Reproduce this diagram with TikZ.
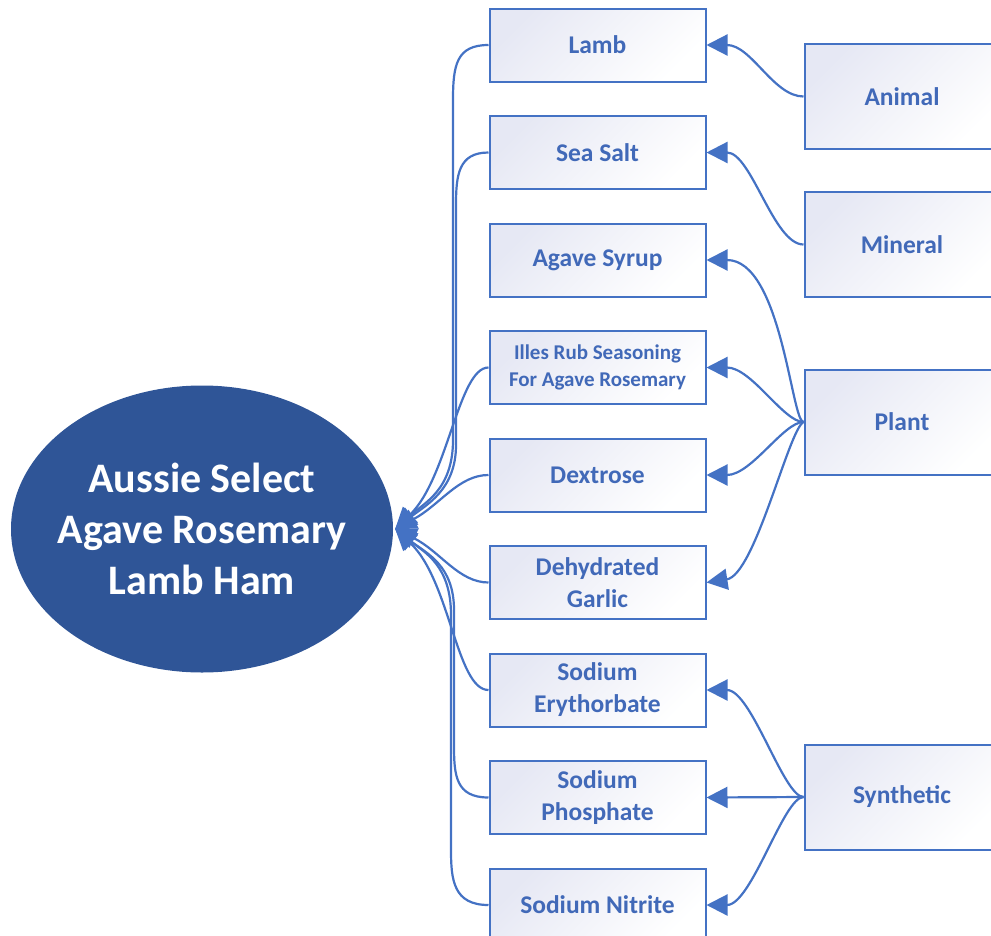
\documentclass[tikz,border=0pt]{standalone}
\usepackage{fontspec}
\setmainfont{Carlito}
\usetikzlibrary{arrows.meta,shapes.geometric}
\definecolor{lnc}{HTML}{4472C4}
\definecolor{txc}{HTML}{4169B8}
\definecolor{elc}{HTML}{2F5597}
\definecolor{bxc}{HTML}{E6E8F4}
\begin{document}
\begin{tikzpicture}[x=1pt,y=-1pt,
 ing/.style={draw=lnc, line width=2pt, top color=bxc, bottom color=white, shading angle=45,
   minimum width=216pt, minimum height=73pt, inner sep=0pt, align=center, text=txc,
   font=\bfseries\fontsize{25.5}{32}\selectfont},
 smalling/.style={ing, font=\bfseries\fontsize{21}{27}\selectfont},
 cat/.style={ing, minimum width=195pt, minimum height=105pt},
 conn/.style={draw=lnc, line width=2.2pt, -{Triangle[length=21pt,width=21pt]}}]
\useasboundingbox (0,0) rectangle (991,935);
\clip (0,0) rectangle (991,935);

\node[ellipse, fill=elc, minimum width=382pt, minimum height=287pt, inner sep=0pt] (main) at (202,529) {};
\node[text=white, align=center, inner sep=0pt, font=\bfseries\fontsize{42}{51}\selectfont] (maintext) at (main.center)
  {Aussie Select\\Agave Rosemary\\Lamb Ham};
\coordinate (hub) at ([xshift=2pt]main.east);

\node[ing] (lamb) at (597.5,45) {Lamb};
\node[ing] (salt) at (597.5,152.5) {Sea Salt};
\node[ing] (agave) at (597.5,260) {Agave Syrup};
\node[smalling] (illes) at (597.5,367.5) {Illes Rub Seasoning\\For Agave Rosemary};
\node[ing] (dex) at (597.5,475) {Dextrose};
\node[ing] (garlic) at (597.5,582.5) {Dehydrated\\Garlic};
\node[ing] (ery) at (597.5,690) {Sodium\\Erythorbate};
\node[ing] (phos) at (597.5,797.5) {Sodium\\Phosphate};
\node[ing] (nit) at (597.5,905) {Sodium Nitrite};

\node[cat] (animal) at (902,96.5) {Animal};
\node[cat] (mineral) at (902,244.5) {Mineral};
\node[cat] (plant) at (902,422) {Plant};
\node[cat] (synth) at (902,797) {Synthetic};

% ingredients to product
\draw[conn] (lamb.west) .. controls +(-32,0) and +(0,-35) .. (453,100) -- (453,440) .. controls (453,490) and (424,503) .. (hub);
\draw[conn] (salt.west) .. controls +(-30,0) and +(0,-30) .. (456,205) -- (456,445) .. controls (456,490) and (426,505) .. (hub);
\draw[conn] (illes.west) .. controls +(-30,0) and (448,478) .. (hub);
\draw[conn] (dex.west) .. controls +(-30,0) and (440,505) .. (hub);
\draw[conn] (garlic.west) .. controls +(-30,0) and (440,551) .. (hub);
\draw[conn] (ery.west) .. controls +(-32,0) and (450,580) .. (hub);
\draw[conn] (phos.west) .. controls +(-33,0) and +(0,30) .. (454,745) -- (454,610) .. controls (454,565) and (426,553) .. (hub);
\draw[conn] (nit.west) .. controls +(-35,0) and +(0,30) .. (451,850) -- (451,615) .. controls (451,565) and (424,552) .. (hub);

% categories to ingredients
\draw[conn] (animal.west) .. controls +(-30,0) and +(45,0) .. (lamb.east);
\draw[conn] (mineral.west) .. controls +(-30,0) and +(45,0) .. (salt.east);
\draw[conn] (plant.west) .. controls +(-12,0) and +(75,0) .. (agave.east);
\draw[conn] (plant.west) .. controls +(-20,0) and +(45,0) .. (illes.east);
\draw[conn] (plant.west) .. controls +(-20,0) and +(45,0) .. (dex.east);
\draw[conn] (plant.west) .. controls +(-15,8) and (755,575) .. (garlic.east);
\draw[conn] (synth.west) .. controls +(-20,0) and +(45,0) .. (ery.east);
\draw[conn] (synth.west) -- (phos.east);
\draw[conn] (synth.west) .. controls +(-20,0) and +(45,0) .. (nit.east);
\end{tikzpicture}
\end{document}
